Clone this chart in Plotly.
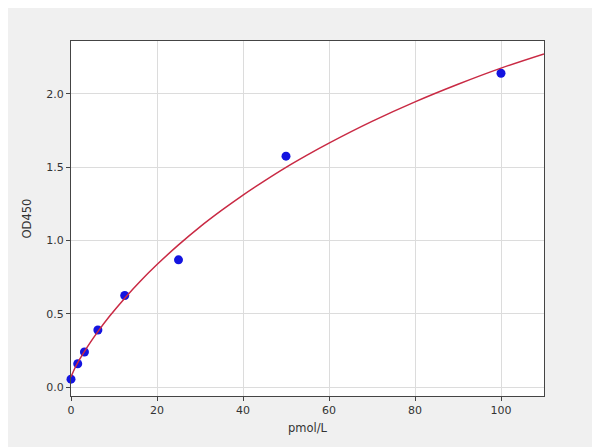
import plotly.graph_objects as go

# Standard points (concentration pmol/L, OD450)
std_conc = [0, 1.5625, 3.125, 6.25, 12.5, 25, 50, 100]
std_od = [0.055, 0.16, 0.24, 0.39, 0.625, 0.868, 1.575, 2.14]

# Fitted curve
curve_x = [0, 1, 2, 3, 4.5, 6.25, 9, 12.5, 16, 20, 25, 30, 35, 40, 45, 50, 55, 60, 70, 80, 90, 100, 110]
curve_y = [0.07, 0.136, 0.19, 0.238, 0.306, 0.379, 0.485, 0.607, 0.719, 0.836, 0.97, 1.093, 1.205,
           1.31, 1.407, 1.499, 1.584, 1.664, 1.812, 1.945, 2.065, 2.175, 2.272]

x_ticks = [0, 20, 40, 60, 80, 100]
y_ticks = [0.0, 0.5, 1.0, 1.5, 2.0]

fig = go.Figure()
fig.add_trace(go.Scatter(x=std_conc, y=std_od, mode="markers",
                         marker=dict(color="#1414e0", size=9, line=dict(width=0)),
                         showlegend=False, cliponaxis=False))
fig.add_trace(go.Scatter(x=curve_x, y=curve_y, mode="lines", line_shape="spline",
                         line=dict(color="#c92a44", width=1.5), showlegend=False))

axis_common = dict(showline=True, mirror=True, linecolor="#444444", linewidth=1,
                   ticks="outside", ticklen=4, tickcolor="#444444",
                   showgrid=True, gridcolor="#dcdcdc", gridwidth=1, zeroline=False,
                   tickfont=dict(family="DejaVu Sans", size=11, color="#333333"),
                   title_font=dict(family="DejaVu Sans", size=11.5, color="#333333"))

fig.update_xaxes(range=[0, 110], tickvals=x_ticks, ticktext=[str(v) for v in x_ticks],
                 title_text="pmol/L", title_standoff=7, **axis_common)
fig.update_yaxes(range=[-0.06, 2.36], tickvals=y_ticks, ticktext=[f"{v:.1f}" for v in y_ticks],
                 title_text="OD450", title_standoff=12, **axis_common)

fig.update_layout(width=600, height=447, margin=dict(l=63, r=64, t=33, b=59),
                  paper_bgcolor="#f0f0f0", plot_bgcolor="#ffffff")

fig.write_html("out.html")
